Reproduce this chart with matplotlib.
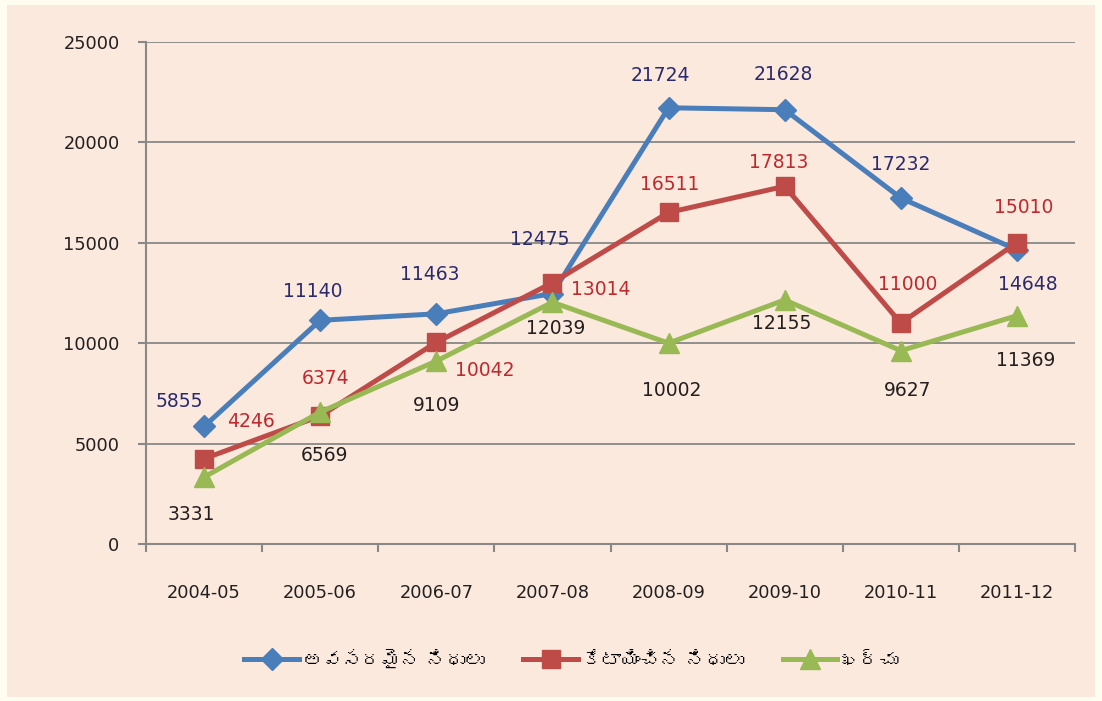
import matplotlib.pyplot as plt
from matplotlib import font_manager
from matplotlib.ft2font import FT2Font
from matplotlib.patches import Rectangle

# Data
years = ['2004-05', '2005-06', '2006-07', '2007-08', '2008-09', '2009-10', '2010-11', '2011-12']
required = [5855, 11140, 11463, 12475, 21724, 21628, 17232, 14648]
allocated = [4246, 6374, 10042, 13014, 16511, 17813, 11000, 15010]
spent = [3331, 6569, 9109, 12039, 10002, 12155, 9627, 11369]
series_names = ['అవసరమైన నిధులు', 'కేటాయించిన నిధులు', 'ఖర్చు']

# label offsets in points (dx, dy)
req_off = [(-18, 18), (-5, 21), (-5, 28), (-9, 39), (-6, 23), (-1, 25), (0, 24), (8, -25)]
alloc_off = [(34, 27), (4, 27), (35, -20), (35, -5), (1, 20), (-4, 17), (5, 28), (5, 25)]
spent_off = [(-9, -27), (3, -31), (0, -32), (2, -19), (2, -34), (-2, -17), (5, -29), (6, -32)]


# look for any installed font that has Telugu glyphs
def telugu_families():
    found = []
    for f in font_manager.fontManager.ttflist:
        try:
            cmap = FT2Font(f.fname).get_charmap()
        except Exception:
            continue
        if 0x0C05 in cmap and f.name not in found:
            found.append(f.name)
    return found


families = ['DejaVu Sans'] + telugu_families() + ['Noto Sans']
plt.rcParams['font.family'] = families

fig = plt.figure(figsize=(11.02, 7.01), dpi=100, facecolor='#FFFDF0')
fig.patches.append(Rectangle((7 / 1102, 4 / 701), 1088 / 1102, 692 / 701,
                             transform=fig.transFigure, facecolor='#FBE9DD',
                             edgecolor='none', zorder=-10))
ax = fig.add_axes([146 / 1102, 1 - 544 / 701, 929 / 1102, 502 / 701])
ax.set_facecolor('none')

x = range(len(years))
lw = 3.6
ax.plot(x, required, color='#4A7EBB', lw=lw, marker='D', ms=11, label=series_names[0], zorder=3)
ax.plot(x, allocated, color='#BE4B48', lw=lw, marker='s', ms=13, label=series_names[1], zorder=4)
ax.plot(x, spent, color='#98B954', lw=lw, marker='^', ms=14, label=series_names[2], zorder=5)

for vals, offs, col in [(required, req_off, '#2B2A6E'),
                        (allocated, alloc_off, '#C0282D'),
                        (spent, spent_off, '#231F20')]:
    for i, v in enumerate(vals):
        ax.annotate(str(v), (i, v), xytext=offs[i], textcoords='offset points',
                    ha='center', va='center', fontsize=13.5, color=col, zorder=6)

ax.set_xlim(-0.5, 7.5)
ax.set_ylim(0, 25000)
ax.set_yticks(range(0, 25001, 5000))
ax.set_xticks([i - 0.5 for i in range(9)])
ax.set_xticklabels([])
ax.set_xticks(list(x), minor=True)
ax.set_xticklabels(years, minor=True, fontsize=12.8, color='#231F20')
ax.tick_params(axis='x', which='minor', length=0, pad=29)
ax.tick_params(axis='x', which='major', length=6, color='#888888', width=1.5)
ax.tick_params(axis='y', length=6, color='#888888', width=1.5, pad=13,
               labelsize=12.8, labelcolor='#231F20')
ax.grid(axis='y', color='#888888', lw=1.3)
ax.set_axisbelow(True)
for s in ['top', 'right']:
    ax.spines[s].set_visible(False)
for s in ['left', 'bottom']:
    ax.spines[s].set_color('#888888')
    ax.spines[s].set_linewidth(1.5)

fig.legend(loc='center', bbox_to_anchor=(572 / 1102, 1 - 660 / 701), ncol=3,
           frameon=False, fontsize=14, handlelength=2.8, columnspacing=2.0,
           handletextpad=0.2)

fig.savefig('out.png', dpi=100, facecolor=fig.get_facecolor())
